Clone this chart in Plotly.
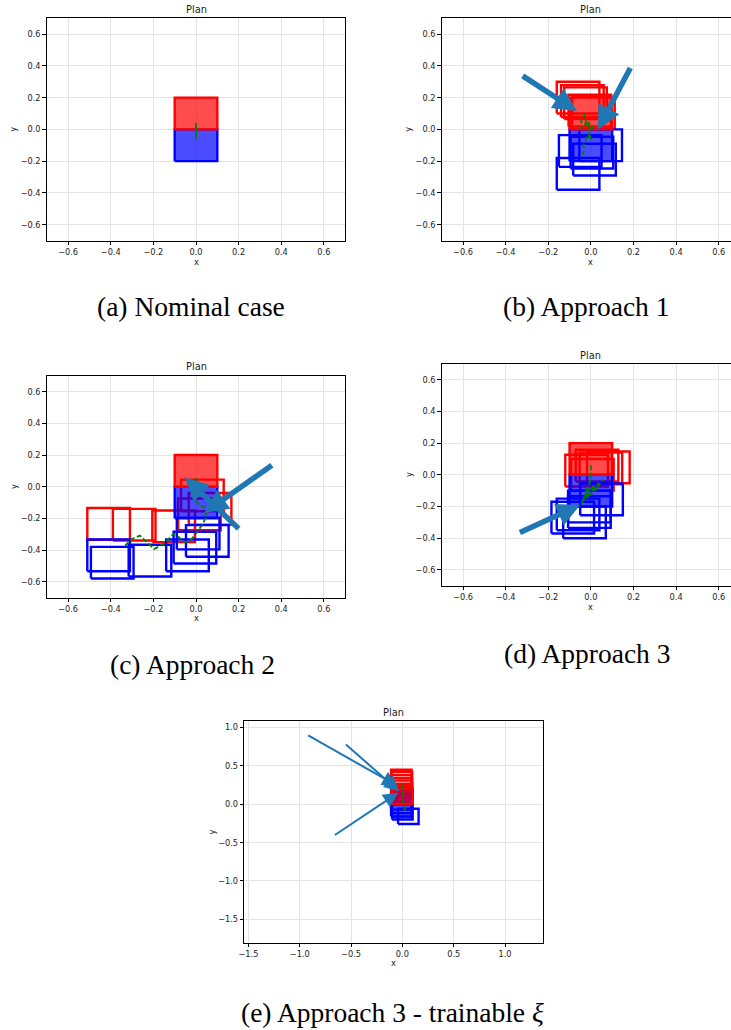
import plotly.graph_objects as go

W, H = 731, 1030

# ---------------- data ----------------
box_size = 0.2
nominal_red_x = [0.0]
nominal_red_y = [0.1]
nominal_blue_x = [0.0]
nominal_blue_y = [-0.1]

plan_ticks = [-0.6, -0.4, -0.2, 0.0, 0.2, 0.4, 0.6]
plan_tick_text = ["\u22120.6", "\u22120.4", "\u22120.2", "0.0", "0.2", "0.4", "0.6"]
e_ticks = [-1.5, -1.0, -0.5, 0.0, 0.5, 1.0]
e_tick_text = ["\u22121.5", "\u22121.0", "\u22120.5", "0.0", "0.5", "1.0"]

captions = ["(a) Nominal case", "(b) Approach 1", "(c) Approach 2",
            "(d) Approach 3", "(e) Approach 3 - trainable <i>\u03be</i>"]

# (a) nominal
a_red_x, a_red_y = [], []
a_blue_x, a_blue_y = [], []
a_path_x = [0.0, 0.0]
a_path_y = [0.04, -0.06]
a_arrow_tail_x, a_arrow_tail_y, a_arrow_head_x, a_arrow_head_y = [], [], [], []

# (b) approach 1
b_red_x = [-0.06, -0.04, -0.025, -0.005, 0.012]
b_red_y = [0.20, 0.178, 0.165, 0.118, 0.105]
b_blue_x = [-0.06, -0.05, 0.046, 0.017, 0.005]
b_blue_y = [-0.28, -0.136, -0.10, -0.19, -0.146]
b_path_x = [-0.035, -0.02, -0.03, -0.005, -0.015, 0.01, -0.01, 0.005, -0.02,
            -0.025, -0.035, -0.03, -0.04, None, -0.045, -0.045]
b_path_y = [0.10, 0.06, 0.02, 0.05, -0.01, 0.02, -0.03, -0.06, -0.04,
            -0.08, -0.10, -0.13, -0.16, None, 0.07, 0.0]
b_arrow_tail_x = [-0.327, 0.189]
b_arrow_tail_y = [0.343, 0.396]
b_arrow_head_x = [-0.066, 0.033]
b_arrow_head_y = [0.116, 0.0]

# (c) approach 2
c_red_x = [-0.41, -0.29, -0.105, 0.03, 0.066, 0.016]
c_red_y = [-0.235, -0.24, -0.25, -0.055, -0.14, -0.175]
c_blue_x = [-0.41, -0.393, -0.216, -0.04, -0.005, 0.01, 0.053]
c_blue_y = [-0.434, -0.48, -0.467, -0.434, -0.385, -0.296, -0.343]
c_path_x = [-0.333, -0.30, -0.263, -0.23, -0.197, -0.15, -0.106, -0.08, -0.052,
            -0.02, 0.003, 0.03, 0.05, 0.04, 0.015, 0.0, 0.0]
c_path_y = [-0.373, -0.33, -0.309, -0.35, -0.394, -0.36, -0.299, -0.32, -0.352,
            -0.33, -0.288, -0.24, -0.183, -0.13, -0.115, -0.09, 0.055]
c_arrow_tail_x = [0.363, 0.207]
c_arrow_tail_y = [0.143, -0.274]
c_arrow_head_x = [0.04, -0.052]
c_arrow_head_y = [-0.165, 0.06]

# (d) approach 3
d_red_x = [-0.02, 0.029, 0.047, 0.082, 0.007]
d_red_y = [0.026, 0.058, 0.04, 0.047, 0.0]
d_blue_x = [-0.085, -0.06, -0.03, -0.007, -0.007, 0.05]
d_blue_y = [-0.27, -0.25, -0.30, -0.20, -0.235, -0.155]
d_path_x = [0.0, 0.0, -0.01, -0.045, -0.025, -0.04, -0.005, -0.02, 0.015,
            0.0, 0.035, 0.02, 0.056]
d_path_y = [0.06, -0.03, -0.06, -0.19, -0.12, -0.17, -0.08, -0.15, -0.06,
            -0.13, -0.05, -0.10, -0.03]
d_arrow_tail_x = [-0.34]
d_arrow_tail_y = [-0.368]
d_arrow_head_x = [-0.05]
d_arrow_head_y = [-0.19]

# (e) approach 3 - trainable xi
e_red_x = [-0.01, -0.005, -0.01, -0.005, -0.01, -0.005, -0.008]
e_red_y = [0.35, 0.32, 0.28, 0.245, 0.21, 0.17, 0.135]
e_blue_x = [-0.01, -0.005, -0.01, 0.058]
e_blue_y = [0.03, -0.015, -0.06, -0.158]
e_extra_blue_fill_x = [0.0]
e_extra_blue_fill_y = [0.1]
e_path_x = [-0.005, 0.0, 0.01, 0.005, 0.02, 0.015, 0.035]
e_path_y = [0.26, 0.18, 0.12, 0.05, 0.0, -0.05, -0.09]
e_arrow_tail_x = [-0.932, -0.565, -0.672]
e_arrow_tail_y = [0.909, 0.796, -0.413]
e_arrow_head_x = [-0.05, -0.03, -0.04]
e_arrow_head_y = [0.24, 0.17, 0.15]

# ---------------- layout of panels (pixels) ----------------
panels = [
    dict(key="a", px=(46.8, 345.2), py=(18.3, 240.5), xr=(-0.7, 0.7), yr=(-0.7, 0.7),
         ticks=(plan_ticks, plan_tick_text), right=True,
         red=(a_red_x, a_red_y), blue=(a_blue_x, a_blue_y), path=(a_path_x, a_path_y),
         arrows=(a_arrow_tail_x, a_arrow_tail_y, a_arrow_head_x, a_arrow_head_y),
         aw=5.5, solidpath=True, title_y=10, xlab_y=261.7, ylab_x=13.3, cap=(191, 307)),
    dict(key="b", px=(441.7, 731), py=(18.3, 240.5), xr=(-0.7, -0.7 + 289.3 / 213.1), yr=(-0.7, 0.7),
         ticks=(plan_ticks, plan_tick_text), right=False,
         red=(b_red_x, b_red_y), blue=(b_blue_x, b_blue_y), path=(b_path_x, b_path_y),
         arrows=(b_arrow_tail_x, b_arrow_tail_y, b_arrow_head_x, b_arrow_head_y),
         aw=5.5, solidpath=False, title_y=10, xlab_y=261.7, ylab_x=408.3, cap=(586, 307)),
    dict(key="c", px=(46.8, 345.2), py=(375.9, 597.5), xr=(-0.7, 0.7), yr=(-0.7, 0.7),
         ticks=(plan_ticks, plan_tick_text), right=True,
         red=(c_red_x, c_red_y), blue=(c_blue_x, c_blue_y), path=(c_path_x, c_path_y),
         arrows=(c_arrow_tail_x, c_arrow_tail_y, c_arrow_head_x, c_arrow_head_y),
         aw=5.5, solidpath=False, title_y=366.7, xlab_y=618.3, ylab_x=13.3, cap=(192, 664)),
    dict(key="d", px=(441.7, 731), py=(363.8, 585.8), xr=(-0.7, -0.7 + 289.3 / 213.1), yr=(-0.7, 0.7),
         ticks=(plan_ticks, plan_tick_text), right=False,
         red=(d_red_x, d_red_y), blue=(d_blue_x, d_blue_y), path=(d_path_x, d_path_y),
         arrows=(d_arrow_tail_x, d_arrow_tail_y, d_arrow_head_x, d_arrow_head_y),
         aw=5.5, solidpath=False, title_y=355, xlab_y=606.7, ylab_x=408.3, cap=(587, 653)),
    dict(key="e", px=(244.3, 543.3), py=(720.7, 942.7), xr=(-1.54, 1.373), yr=(-1.805, 1.09),
         ticks=(e_ticks, e_tick_text), right=True,
         red=(e_red_x, e_red_y), blue=(e_blue_x, e_blue_y), path=(e_path_x, e_path_y),
         arrows=(e_arrow_tail_x, e_arrow_tail_y, e_arrow_head_x, e_arrow_head_y),
         aw=2, solidpath=False, title_y=712.3, xlab_y=963.3, ylab_x=211.7, cap=(392, 1012)),
]

RED = "rgb(255,0,0)"
BLUE = "rgb(0,0,255)"
RED_FILL = "rgba(255,0,0,0.7)"
BLUE_FILL = "rgba(0,0,255,0.7)"
ARROW = "#1f77b4"
TICK_FONT = dict(family="DejaVu Sans", size=8.2, color="#1a1a1a")
BOX_LW = 2.4


def rect_path(xs, ys):
    h = box_size / 2
    px, py = [], []
    for cx, cy in zip(xs, ys):
        px += [cx - h, cx + h, cx + h, cx - h, cx - h, None]
        py += [cy - h, cy - h, cy + h, cy + h, cy - h, None]
    return px, py


fig = go.Figure()
annotations = []
layout = dict(template="none", width=W, height=H, margin=dict(l=0, r=0, t=0, b=0, pad=0),
              paper_bgcolor="white", plot_bgcolor="white", showlegend=False)

for i, p in enumerate(panels, start=1):
    xa, ya = f"x{i}", f"y{i}"
    xname = "xaxis" if i == 1 else f"xaxis{i}"
    yname = "yaxis" if i == 1 else f"yaxis{i}"
    tv, tt = p["ticks"]
    common = dict(showgrid=True, gridcolor="#e3e3e3", gridwidth=1, zeroline=False,
                  showline=True, linecolor="black", linewidth=1.2, automargin=False,
                  ticks="outside", ticklen=3.5, tickcolor="black", tickwidth=1,
                  tickmode="array", tickvals=tv, ticktext=tt, tickfont=TICK_FONT,
                  fixedrange=True)
    layout[xname] = dict(common, domain=[p["px"][0] / W, p["px"][1] / W],
                         range=list(p["xr"]), anchor=ya, mirror=True)
    layout[yname] = dict(common, domain=[1 - p["py"][1] / H, 1 - p["py"][0] / H],
                         range=list(p["yr"]), anchor=xa, mirror=p["right"])

    # outline boxes
    rx, ry = rect_path(*p["red"])
    fig.add_trace(go.Scatter(x=rx, y=ry, mode="lines", line=dict(color=RED, width=BOX_LW),
                             xaxis=xa, yaxis=ya, hoverinfo="skip"))
    bx, by = rect_path(*p["blue"])
    fig.add_trace(go.Scatter(x=bx, y=by, mode="lines", line=dict(color=BLUE, width=BOX_LW),
                             xaxis=xa, yaxis=ya, hoverinfo="skip"))
    # filled boxes
    fb_x, fb_y = list(nominal_blue_x), list(nominal_blue_y)
    if p["key"] == "e":
        fb_x += e_extra_blue_fill_x
        fb_y += e_extra_blue_fill_y
    for cx, cy in zip(fb_x, fb_y):
        fx, fy = rect_path([cx], [cy])
        fig.add_trace(go.Scatter(x=fx[:-1], y=fy[:-1], mode="lines", fill="toself",
                                 fillcolor=BLUE_FILL, line=dict(color=BLUE, width=BOX_LW),
                                 xaxis=xa, yaxis=ya, hoverinfo="skip"))
    fx, fy = rect_path(nominal_red_x, nominal_red_y)
    fig.add_trace(go.Scatter(x=fx[:-1], y=fy[:-1], mode="lines", fill="toself",
                             fillcolor=RED_FILL, line=dict(color=RED, width=BOX_LW),
                             xaxis=xa, yaxis=ya, hoverinfo="skip"))
    # trajectory
    gx, gy = p["path"]
    fig.add_trace(go.Scatter(x=gx, y=gy, mode="lines",
                             line=dict(color="green", width=1.8,
                                       dash="solid" if p["solidpath"] else "5px,2.5px"),
                             xaxis=xa, yaxis=ya, hoverinfo="skip", connectgaps=False))
    # arrows
    tx, ty, hx, hy = p["arrows"]
    for a0, b0, a1, b1 in zip(tx, ty, hx, hy):
        annotations.append(dict(x=a1, y=b1, ax=a0, ay=b0, xref=xa, yref=ya,
                                axref=xa, ayref=ya, text="", showarrow=True,
                                arrowhead=2, arrowsize=0.85 if p["aw"] > 3 else 1.5,
                                arrowwidth=p["aw"], arrowcolor=ARROW, standoff=0))

    cx_px = (p["px"][0] + (p["px"][0] + 298.4)) / 2
    # title
    annotations.append(dict(text="Plan", x=cx_px / W, y=1 - p["title_y"] / H,
                            xref="paper", yref="paper", showarrow=False,
                            xanchor="center", yanchor="middle",
                            font=dict(family="DejaVu Sans", size=9.8, color="#1a1a1a")))
    annotations.append(dict(text="x", x=cx_px / W, y=1 - p["xlab_y"] / H,
                            xref="paper", yref="paper", showarrow=False,
                            xanchor="center", yanchor="middle", font=TICK_FONT))
    ymid = (p["py"][0] + p["py"][1]) / 2
    annotations.append(dict(text="y", x=p["ylab_x"] / W, y=1 - ymid / H,
                            xref="paper", yref="paper", showarrow=False, textangle=-90,
                            xanchor="center", yanchor="middle", font=TICK_FONT))
    annotations.append(dict(text=captions[i - 1], x=p["cap"][0] / W, y=1 - p["cap"][1] / H,
                            xref="paper", yref="paper", showarrow=False,
                            xanchor="center", yanchor="middle",
                            font=dict(family="Liberation Serif", size=27.5, color="black")))

layout["annotations"] = annotations
fig.update_layout(**layout)
fig.write_html("out.html")
